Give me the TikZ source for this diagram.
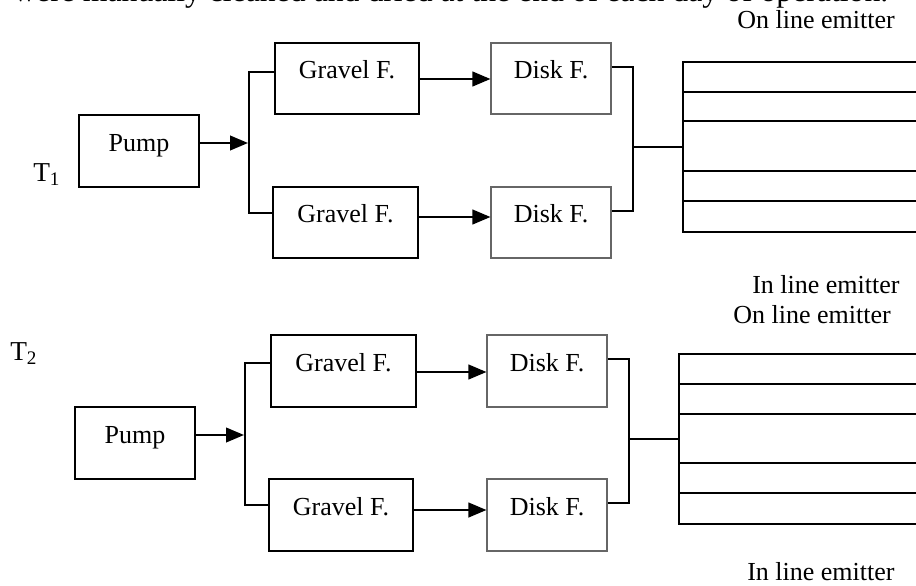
\documentclass[tikz,border=0pt]{standalone}
\usepackage{fontspec}
\setmainfont{Liberation Serif}
\usetikzlibrary{arrows.meta,calc}
\begin{document}
\begin{tikzpicture}[x=0.75pt,y=-0.75pt,
  every node/.style={font=\fontsize{19.5}{23}\selectfont},
  blk/.style={draw=black, line width=1.5pt, inner sep=0pt, minimum height=54pt},
  gbox/.style={draw=black!60, line width=0.8pt, inner sep=0pt, minimum width=90pt, minimum height=54pt},
  wire/.style={line width=1.5pt},
  arr/.style={wire, -{Triangle[length=13.5pt,width=11pt]}},
  emit/.style={draw=black, line width=1.5pt, inner sep=0pt, minimum width=200pt, minimum height=127.5pt, anchor=north west},
  lbl/.style={anchor=base west, inner sep=0pt},
  txt/.style={anchor=base, inner sep=0pt}]
\useasboundingbox (0,0) rectangle (916,585);
\clip (0,0) rectangle (916,585);

% ---------- top text ----------
\node[lbl, font=\fontsize{23.8}{28}\selectfont] (sent) at (13,2) {were manually cleaned and dried at the end of each day of operation.};
\node[lbl] (on1) at (737,29) {On line emitter};
\node[lbl] (in1) at (752,293) {In line emitter};
\node[lbl] (on2) at (733,323) {On line emitter};
\node[lbl] (in2) at (747,580) {In line emitter};
\node[lbl, font=\fontsize{20.5}{24}\selectfont] (T1) at (33,181) {T\textsubscript{1}};
\node[lbl, font=\fontsize{20.5}{24}\selectfont] (T2) at (10,360) {T\textsubscript{2}};

% ---------- T1 ----------
\node[blk, minimum width=90pt] (pump1) at (139,151) {};
\node[txt] (pump1t) at (pump1.center) {Pump};
\node[blk, minimum width=108pt, minimum height=53.25pt] (g1a) at (347,78.5) {};
\node[txt] (g1at) at (g1a.center) {Gravel F.};
\node[blk, minimum width=108.75pt, minimum height=53.25pt] (g1b) at (345.5,222.5) {};
\node[txt] (g1bt) at (g1b.center) {Gravel F.};
\node[gbox, minimum height=53.25pt] (d1a) at (551,78.5) {};
\node[txt] (d1at) at (d1a.center) {Disk F.};
\node[gbox, minimum height=53.25pt] (d1b) at (551,222.5) {};
\node[txt] (d1bt) at (d1b.center) {Disk F.};
\node[emit] (em1) at (682,61) {};

\coordinate (m1) at (248,143);
\coordinate (t1) at (249,72);
\coordinate (b1) at (249,213);
\coordinate (a1t) at (0,79);
\coordinate (a1b) at (0,217);
\coordinate (dt1) at (633,67);
\coordinate (db1) at (633,211);

\draw[arr] (pump1.east |- m1) -- (m1);
\draw[wire] (g1a.west |- t1) -- (t1) -- (b1) -- (g1b.west |- b1);
\draw[arr] (g1a.east |- a1t) -- (d1a.west |- a1t);
\draw[arr] (g1b.east |- a1b) -- (d1b.west |- a1b);
\draw[wire] (d1a.east |- dt1) -- (dt1) -- (db1) -- (d1b.east |- db1);
\draw[wire] (em1.west) -- (em1.west -| dt1);
\foreach \k in {31,60,110,140}
  \draw[wire] ($(em1.north west)+(0,\k)$) -- ($(em1.north east)+(0,\k)$);

% ---------- T2 ----------
\node[blk, minimum width=90pt] (pump2) at (135,443) {};
\node[txt] (pump2t) at (pump2.center) {Pump};
\node[blk, minimum width=108.75pt] (g2a) at (343.5,371) {};
\node[txt] (g2at) at (g2a.center) {Gravel F.};
\node[blk, minimum width=108pt] (g2b) at (341,515) {};
\node[txt] (g2bt) at (g2b.center) {Gravel F.};
\node[gbox] (d2a) at (547,371) {};
\node[txt] (d2at) at (d2a.center) {Disk F.};
\node[gbox] (d2b) at (547,515) {};
\node[txt] (d2bt) at (d2b.center) {Disk F.};
\node[emit] (em2) at (678,353) {};

\coordinate (m2) at (244,435);
\coordinate (t2) at (245,363);
\coordinate (b2) at (245,505);
\coordinate (a2t) at (0,372);
\coordinate (a2b) at (0,510);
\coordinate (dt2) at (629,359);
\coordinate (db2) at (629,503);

\draw[arr] (pump2.east |- m2) -- (m2);
\draw[wire] (g2a.west |- t2) -- (t2) -- (b2) -- (g2b.west |- b2);
\draw[arr] (g2a.east |- a2t) -- (d2a.west |- a2t);
\draw[arr] (g2b.east |- a2b) -- (d2b.west |- a2b);
\draw[wire] (d2a.east |- dt2) -- (dt2) -- (db2) -- (d2b.east |- db2);
\draw[wire] (em2.west) -- (em2.west -| dt2);
\foreach \k in {31,61,110,140}
  \draw[wire] ($(em2.north west)+(0,\k)$) -- ($(em2.north east)+(0,\k)$);
\end{tikzpicture}
\end{document}
